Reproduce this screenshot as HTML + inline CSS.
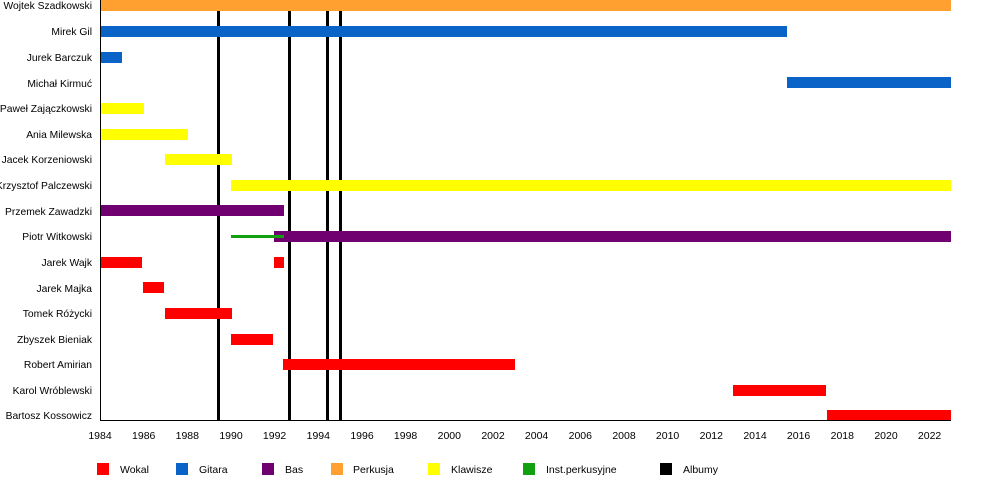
<!DOCTYPE html>
<html><head><meta charset="utf-8"><style>
html,body{margin:0;padding:0;background:#fff;}
svg{display:block;font-family:"Liberation Sans",Arial,sans-serif;}
</style></head><body>
<svg width="1000" height="480" viewBox="0 0 1000 480" xmlns="http://www.w3.org/2000/svg">
<rect width="1000" height="480" fill="#fff"/>
<g stroke="#000" stroke-width="3">
<line x1="218.5" y1="0" x2="218.5" y2="420"/>
<line x1="289.5" y1="0" x2="289.5" y2="420"/>
<line x1="327.5" y1="0" x2="327.5" y2="420"/>
<line x1="340.5" y1="0" x2="340.5" y2="420"/>
</g>
<g>
<rect x="100" y="0" width="851" height="11" fill="#ffa030"/>
<rect x="100" y="26" width="687" height="11" fill="#0a64c8"/>
<rect x="100" y="52" width="22" height="11" fill="#0a64c8"/>
<rect x="787" y="77" width="164" height="11" fill="#0a64c8"/>
<rect x="100" y="103" width="44" height="11" fill="#ffff00"/>
<rect x="100" y="129" width="88" height="11" fill="#ffff00"/>
<rect x="165" y="154" width="67" height="11" fill="#ffff00"/>
<rect x="231" y="180" width="720" height="11" fill="#ffff00"/>
<rect x="100" y="205" width="184" height="11" fill="#700070"/>
<rect x="274" y="231" width="677" height="11" fill="#700070"/>
<rect x="231" y="235" width="53" height="3" fill="#10a010"/>
<rect x="100" y="257" width="42" height="11" fill="#ff0000"/>
<rect x="274" y="257" width="10" height="11" fill="#ff0000"/>
<rect x="143" y="282" width="21" height="11" fill="#ff0000"/>
<rect x="165" y="308" width="67" height="11" fill="#ff0000"/>
<rect x="231" y="334" width="42" height="11" fill="#ff0000"/>
<rect x="283" y="359" width="232" height="11" fill="#ff0000"/>
<rect x="733" y="385" width="93" height="11" fill="#ff0000"/>
<rect x="827" y="410" width="124" height="11" fill="#ff0000"/>
</g>
<line x1="100.5" y1="0" x2="100.5" y2="420" stroke="#000" stroke-width="1"/>
<line x1="100" y1="420.5" x2="951" y2="420.5" stroke="#000" stroke-width="1"/>
<g stroke="#000" stroke-width="1" id="ticks"></g>
<g font-size="10.3" fill="#000" text-anchor="end">
<text x="92" y="9">Wojtek Szadkowski</text>
<text x="92" y="35">Mirek Gil</text>
<text x="92" y="61">Jurek Barczuk</text>
<text x="92" y="87">Michał Kirmuć</text>
<text x="92" y="112">Paweł Zajączkowski</text>
<text x="92" y="138">Ania Milewska</text>
<text x="92" y="163">Jacek Korzeniowski</text>
<text x="92" y="189">Krzysztof Palczewski</text>
<text x="92" y="215">Przemek Zawadzki</text>
<text x="92" y="240">Piotr Witkowski</text>
<text x="92" y="266">Jarek Wajk</text>
<text x="92" y="292">Jarek Majka</text>
<text x="92" y="317">Tomek Różycki</text>
<text x="92" y="343">Zbyszek Bieniak</text>
<text x="92" y="368">Robert Amirian</text>
<text x="92" y="394">Karol Wróblewski</text>
<text x="92" y="419">Bartosz Kossowicz</text>
</g>
<g font-size="10.5" fill="#000" text-anchor="middle">
<text x="100" y="439">1984</text><text x="143.7" y="439">1986</text><text x="187.3" y="439">1988</text>
<text x="231" y="439">1990</text><text x="274.6" y="439">1992</text><text x="318.3" y="439">1994</text>
<text x="362" y="439">1996</text><text x="405.6" y="439">1998</text><text x="449.3" y="439">2000</text>
<text x="493" y="439">2002</text><text x="536.6" y="439">2004</text><text x="580.3" y="439">2006</text>
<text x="624" y="439">2008</text><text x="667.6" y="439">2010</text><text x="711.3" y="439">2012</text>
<text x="755" y="439">2014</text><text x="798.6" y="439">2016</text><text x="842.3" y="439">2018</text>
<text x="886" y="439">2020</text><text x="929.6" y="439">2022</text>
</g>
<g>
<rect x="97" y="463" width="12" height="12" fill="#ff0000"/>
<rect x="176" y="463" width="12" height="12" fill="#0a64c8"/>
<rect x="262" y="463" width="12" height="12" fill="#700070"/>
<rect x="331" y="463" width="12" height="12" fill="#ffa030"/>
<rect x="428" y="463" width="12" height="12" fill="#ffff00"/>
<rect x="523" y="463" width="12" height="12" fill="#10a010"/>
<rect x="660" y="463" width="12" height="12" fill="#000"/>
</g>
<g font-size="10.5" fill="#000">
<text x="120" y="473">Wokal</text>
<text x="199" y="473">Gitara</text>
<text x="285" y="473">Bas</text>
<text x="353" y="473">Perkusja</text>
<text x="451" y="473">Klawisze</text>
<text x="546" y="473">Inst.perkusyjne</text>
<text x="683" y="473">Albumy</text>
</g>
<script>
var g=document.getElementById('ticks');var s='';
for(var y=0;y<=39;y++){var x=100+y*21.83;var xx=Math.round(x)+0.5;var L=(y%2==0)?5:3;
s+='<line x1="'+xx+'" y1="420" x2="'+xx+'" y2="'+(420+L)+'"/>';}
g.innerHTML=s;
</script>
</svg>
</body></html>
